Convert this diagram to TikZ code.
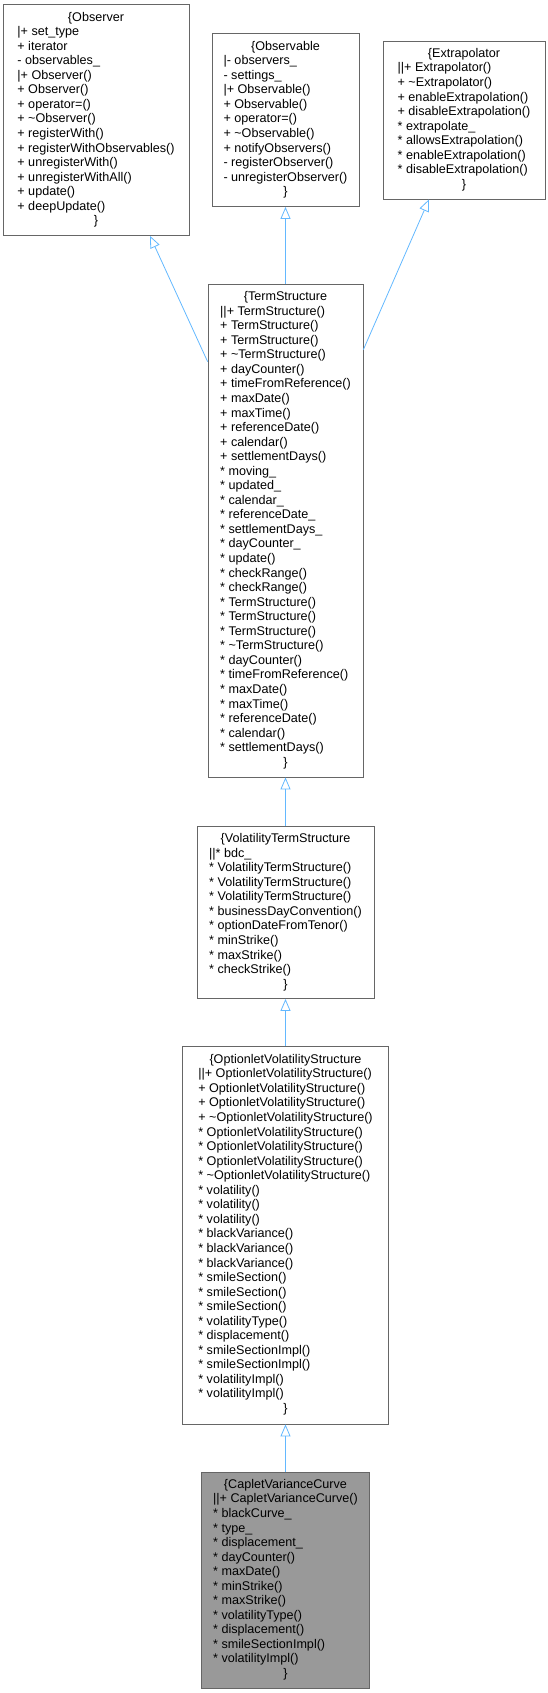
\documentclass[tikz,border=0pt]{standalone}
\usepackage{fontspec}
\setmainfont{Liberation Sans}
\usetikzlibrary{arrows.meta,calc}

\definecolor{boxgray}{HTML}{666666}
\definecolor{curgray}{HTML}{999999}
\definecolor{inherit}{HTML}{63B8FF}

\newcommand{\recbody}[2]{\begin{tabular}{@{}l@{}}\multicolumn{1}{@{}c@{}}{\{#1}\\ #2\\ \multicolumn{1}{@{}c@{}}{\}}\end{tabular}}

\tikzset{
  cls/.style={draw=boxgray, fill=white, line width=0.8pt, inner sep=0pt,
    font=\fontsize{12.6}{14.55}\selectfont},
  inh/.style={-{Triangle[open,length=12pt,width=10pt]}, draw=inherit, line width=0.8pt}
}

\begin{document}
\begin{tikzpicture}[x=1pt,y=1pt]
\useasboundingbox (0,0) rectangle (548,-1693);

% top row
\node[cls, minimum width=186, minimum height=231] (observer) at (96,-120)
  {\recbody{Observer}{|+ set\_type\\ + iterator\\ - observables\_\\ |+ Observer()\\ + Observer()\\ + operator=()\\ + \textasciitilde Observer()\\ + registerWith()\\ + registerWithObservables()\\ + unregisterWith()\\ + unregisterWithAll()\\ + update()\\ + deepUpdate()}};
\node[cls, minimum width=147, minimum height=173] (observable) at (285.5,-120)
  {\recbody{Observable}{|- observers\_\\ - settings\_\\ |+ Observable()\\ + Observable()\\ + operator=()\\ + \textasciitilde Observable()\\ + notifyObservers()\\ - registerObserver()\\ - unregisterObserver()}};
\node[cls, minimum width=162, minimum height=158] (extrap) at (464,-120)
  {\recbody{Extrapolator}{||+ Extrapolator()\\ + \textasciitilde Extrapolator()\\ + enableExtrapolation()\\ + disableExtrapolation()\\ {*} extrapolate\_\\ {*} allowsExtrapolation()\\ {*} enableExtrapolation()\\ {*} disableExtrapolation()}};

% middle column
\node[cls, minimum width=155, minimum height=493] (ts) at (285.5,-530.5)
  {\recbody{TermStructure}{||+ TermStructure()\\ + TermStructure()\\ + TermStructure()\\ + \textasciitilde TermStructure()\\ + dayCounter()\\ + timeFromReference()\\ + maxDate()\\ + maxTime()\\ + referenceDate()\\ + calendar()\\ + settlementDays()\\ {*} moving\_\\ {*} updated\_\\ {*} calendar\_\\ {*} referenceDate\_\\ {*} settlementDays\_\\ {*} dayCounter\_\\ {*} update()\\ {*} checkRange()\\ {*} checkRange()\\ {*} TermStructure()\\ {*} TermStructure()\\ {*} TermStructure()\\ {*} \textasciitilde TermStructure()\\ {*} dayCounter()\\ {*} timeFromReference()\\ {*} maxDate()\\ {*} maxTime()\\ {*} referenceDate()\\ {*} calendar()\\ {*} settlementDays()}};
\node[cls, minimum width=177, minimum height=172] (vts) at (285.5,-912.5)
  {\recbody{VolatilityTermStructure}{||* bdc\_\\ {*} VolatilityTermStructure()\\ {*} VolatilityTermStructure()\\ {*} VolatilityTermStructure()\\ {*} businessDayConvention()\\ {*} optionDateFromTenor()\\ {*} minStrike()\\ {*} maxStrike()\\ {*} checkStrike()}};
\node[cls, minimum width=206, minimum height=378] (ovs) at (285.5,-1235)
  {\recbody{OptionletVolatilityStructure}{||+ OptionletVolatilityStructure()\\ + OptionletVolatilityStructure()\\ + OptionletVolatilityStructure()\\ + \textasciitilde OptionletVolatilityStructure()\\ {*} OptionletVolatilityStructure()\\ {*} OptionletVolatilityStructure()\\ {*} OptionletVolatilityStructure()\\ {*} \textasciitilde OptionletVolatilityStructure()\\ {*} volatility()\\ {*} volatility()\\ {*} volatility()\\ {*} blackVariance()\\ {*} blackVariance()\\ {*} blackVariance()\\ {*} smileSection()\\ {*} smileSection()\\ {*} smileSection()\\ {*} volatilityType()\\ {*} displacement()\\ {*} smileSectionImpl()\\ {*} smileSectionImpl()\\ {*} volatilityImpl()\\ {*} volatilityImpl()}};
\node[cls, fill=curgray, minimum width=168, minimum height=216] (cvc) at (285.5,-1580)
  {\recbody{CapletVarianceCurve}{||+ CapletVarianceCurve()\\ {*} blackCurve\_\\ {*} type\_\\ {*} displacement\_\\ {*} dayCounter()\\ {*} maxDate()\\ {*} minStrike()\\ {*} maxStrike()\\ {*} volatilityType()\\ {*} displacement()\\ {*} smileSectionImpl()\\ {*} volatilityImpl()}};

% inheritance
\draw[inh] ($(ts.north west)+(0,-78)$) -- ($(observer.south)+(54,0)$);
\draw[inh] (ts.north) -- (observable.south);
\draw[inh] ($(ts.north east)+(0,-66)$) -- ($(extrap.south)+(-35,0)$);
\draw[inh] (vts.north) -- (ts.south);
\draw[inh] (ovs.north) -- (vts.south);
\draw[inh] (cvc.north) -- (ovs.south);

\end{tikzpicture}
\end{document}
